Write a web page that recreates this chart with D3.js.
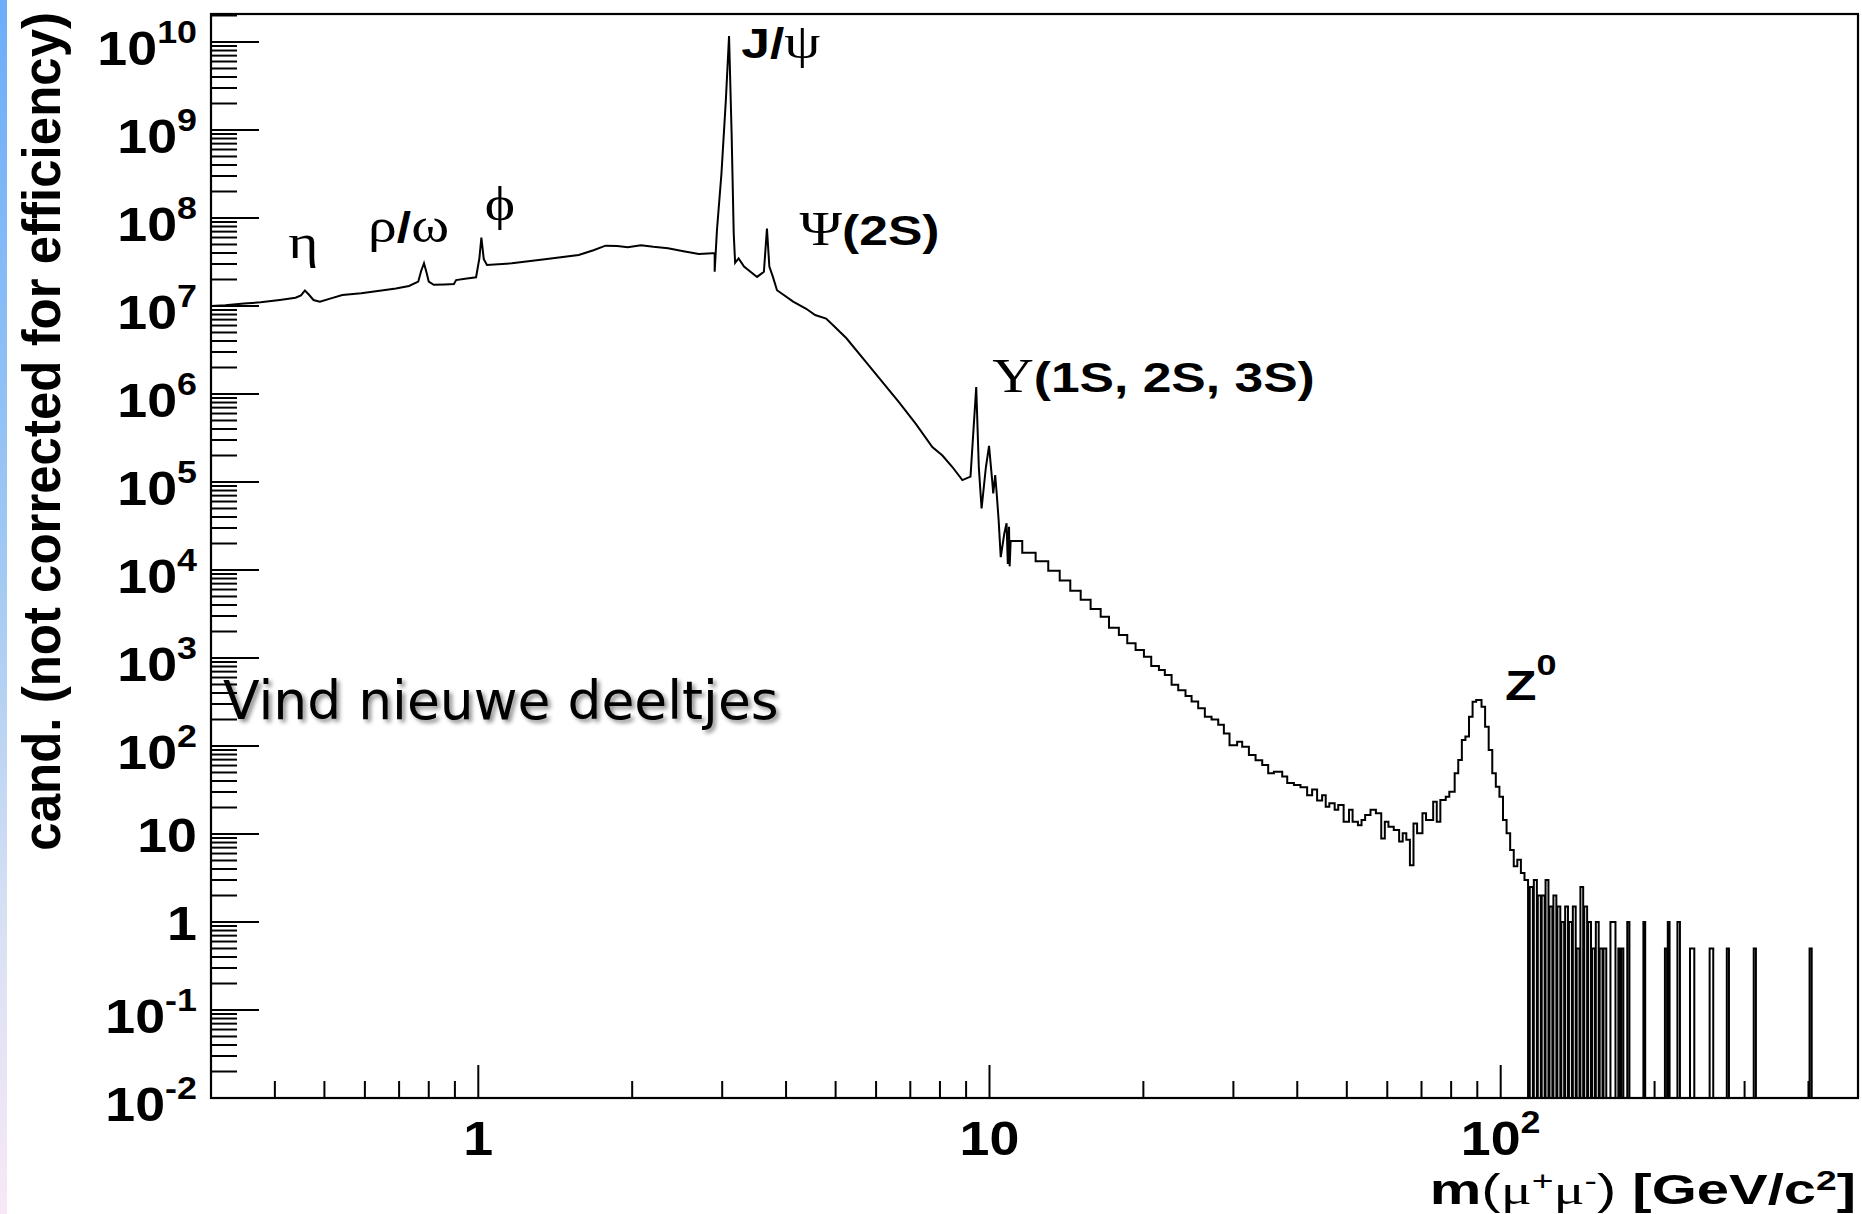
<!DOCTYPE html>
<html><head><meta charset="utf-8">
<script src="https://cdn.jsdelivr.net/npm/d3@7"></script>
<style>
html,body{margin:0;padding:0;background:#fff;}
svg{display:block;}
</style></head><body>
<svg id="c" width="1862" height="1214"></svg>
<script>
// ---------------- DATA ----------------
// continuous low-mass part of the dimuon spectrum (GeV, candidates)
const lowMass = [0.300,0.320,0.348,0.375,0.409,0.439,0.450,0.458,0.466,0.476,0.490,0.515,0.542,0.590,0.636,0.690,0.732,0.763,0.773,0.783,0.792,0.800,0.818,0.860,0.896,0.905,0.950,0.990,1.005,1.014,1.025,1.040,1.163,1.350,1.572,1.680,1.774,1.870,1.960,2.080,2.200,2.350,2.520,2.700,2.870,2.900,2.900,2.930,2.990,3.050,3.094,3.130,3.160,3.180,3.230,3.310,3.510,3.620,3.670,3.710,3.770,3.840,4.130,4.380,4.560,4.790,4.950,5.250,5.810,6.650,7.170,7.730,8.090,8.460,8.850,9.180,9.420,9.530,9.650,9.840,9.980,10.12,10.17,10.26,10.33,10.42,10.52,10.69,10.80,10.86,10.92,10.95,11.00];
const lowCount = [1.00e7,1.02e7,1.07e7,1.10e7,1.17e7,1.24e7,1.32e7,1.50e7,1.35e7,1.17e7,1.12e7,1.22e7,1.33e7,1.40e7,1.48e7,1.58e7,1.69e7,1.89e7,2.5e7,3.06e7,2.4e7,1.89e7,1.74e7,1.76e7,1.78e7,1.97e7,2.05e7,2.12e7,3.5e7,6.0e7,3.4e7,2.92e7,3.06e7,3.4e7,3.8e7,4.3e7,4.85e7,4.8e7,4.65e7,4.9e7,4.7e7,4.52e7,4.2e7,3.89e7,3.98e7,3.98e7,2.45e7,7.3e7,3.2e8,2.2e9,1.17e10,9.1e8,6.6e7,3.1e7,3.47e7,2.8e7,2.14e7,2.45e7,7.6e7,2.8e7,2.14e7,1.51e7,1.12e7,9.3e6,7.9e6,7.2e6,6.0e6,4.3e6,2.1e6,8.1e5,4.6e5,2.5e5,2.0e5,1.48e5,1.05e5,1.15e5,1.2e6,1.48e5,5.0e4,1.48e5,2.57e5,1.05e5,7.4e4,1.2e5,7.4e4,3.7e4,1.4e4,2.6e4,3.4e4,1.17e4,3.1e4,1.1e4,2.14e4];

// binned part, 11 - 113 GeV (bin edges and contents)
const histEdges = [11.00,11.59,12.31,13.03,13.72,14.39,15.08,15.77,16.50,17.13,17.91,18.60,19.31,20.05,20.72,21.45,22.03,22.71,23.40,24.18,24.85,25.60,26.38,27.19,28.02,28.74,29.48,30.51,31.21,32.17,33.15,34.16,35.09,36.00,37.38,38.23,39.40,40.58,41.82,42.77,43.74,44.74,45.47,46.21,47.34,48.11,49.29,50.50,51.32,52.57,53.43,54.30,55.63,57.00,58.39,59.34,60.31,61.78,63.29,64.32,65.37,66.44,67.52,68.62,70.30,71.44,73.78,74.98,76.20,78.07,79.34,81.28,82.60,83.95,85.31,86.70,88.11,89.54,91.73,93.22,94.74,96.28,97.83,99.43,101.04,102.69,104.36,106.06,107.78,109.53,111.31,113.12];
const histCounts = [21400,15700,12600,9800,7600,5800,4600,3600,2950,2200,1820,1470,1230,1035,810,730,640,495,430,370,320,268,215,200,174,139,102,112,98,79,69,61,49,51,45,38,36,34,27.5,32,24,27.5,20.4,22.3,18.8,21.3,13.8,18.8,13.8,12.6,14.4,16.4,18.8,17.2,8.9,13.8,12.1,11.1,8.2,10.2,8.6,4.4,13.2,10.2,17.2,14.4,23.3,13.8,24.3,26.5,30.3,48.9,69.3,117,128,215,319,333,280,166,90,49,34.5,26.5,14.4,10.2,6.6,4.3,5.1,3.6,3.0];

// sparse high-mass tail: only non-empty bins (all other bins are empty)
const tailLow  = [114.0,116.1,118.2,120.3,122.4,124.6,126.8,129.1,131.4,133.7,136.0,138.4,140.8,143.2,145.7,148.3,150.9,153.5,156.2,158.9,163.95,169.87,172.09,176.86,190.19,209.54,212.26,221.7,234.6,256.3,276.9,312.6,402.0];
const tailHigh = [115.6,117.7,119.8,121.9,124.0,126.2,128.5,130.8,133.1,135.4,137.8,140.2,142.6,145.0,147.6,150.2,152.8,155.5,158.2,160.9,167.70,171.25,173.76,178.58,191.73,211.58,213.98,224.2,239.2,260.5,279.6,315.7,405.9];
const tailCount= [2.5,3,2,2,3,1.5,2,1.5,1,1.5,1,1.5,0.5,2.5,1.5,1,0.5,1,0.5,0.5,1,0.5,0.5,1,1,0.5,1,1,0.5,0.5,0.5,0.5,0.5];

// axes
const yTickExps = [-2,-1,0,1,2,3,4,5,6,7,8,9,10];
const minorMultipliers = [2,3,4,5,6,7,8,9];
const xTickValues = [1,10,100];
const xTickBase = ["1","10","10"];
const xTickSup = ["","","2"];

// peak labels (text parts: b = bold sans, g = serif greek, s = superscript)
const peakTexts = [
  [["η","g"]],
  [["ρ","g"],["/","b"],["ω","g"]],
  [["ϕ","g"]],
  [["J/","b"],["ψ","g"]],
  [["Ψ","g"],["(2S)","b"]],
  [["Υ","g"],["(1S, 2S, 3S)","b"]],
  [["Z","b"],["0","s"]]
];

// ---------------- DRAW ----------------
const W = 1862, H = 1214;
const F = {left:211, top:14, right:1858, bottom:1098};
const SANS = "'Liberation Sans', Arial, Helvetica, sans-serif";
const SERIF = "'Liberation Serif', 'Times New Roman', 'DejaVu Serif', serif";
const svg = d3.select("#c");

const defs = svg.append("defs");
const grad = defs.append("linearGradient").attr("id","strip").attr("x1",0).attr("y1",0).attr("x2",0).attr("y2",1);
[[0,"#6cadf9"],[0.45,"#9fc8f3"],[0.75,"#d6e0f3"],[1,"#f8e8f6"]].forEach(s=>grad.append("stop").attr("offset",s[0]).attr("stop-color",s[1]));
defs.append("clipPath").attr("id","frame").append("rect")
  .attr("x",F.left).attr("y",F.top).attr("width",F.right-F.left).attr("height",F.bottom-F.top);
const sh = defs.append("filter").attr("id","shadow").attr("x","-5%").attr("y","-20%").attr("width","115%").attr("height","150%");
sh.append("feDropShadow").attr("dx",3).attr("dy",3).attr("stdDeviation",2.2).attr("flood-color","#000").attr("flood-opacity",0.45);

svg.append("rect").attr("width",W).attr("height",H).attr("fill","#fff");
svg.append("rect").attr("x",0).attr("y",0).attr("width",7).attr("height",H).attr("fill","url(#strip)");

const x = d3.scaleLog().domain([0.3, 500]).range([F.left, F.right]);
const y = d3.scaleLog().domain([0.01, 2.08e10]).range([F.bottom, F.top]);
const yMin = y.domain()[0];

// build the spectrum path
const pts = [];
lowMass.forEach((m,i)=>pts.push([m, lowCount[i]]));
for (let i=0;i<histCounts.length;i++){
  pts.push([histEdges[i], histCounts[i]]);
  pts.push([histEdges[i+1], histCounts[i]]);
}
pts.push([histEdges[histEdges.length-1], yMin]);
for (let i=0;i<tailCount.length;i++){
  const adjPrev = i>0 && Math.abs(tailHigh[i-1]-tailLow[i])<1e-9;
  const adjNext = i<tailCount.length-1 && Math.abs(tailHigh[i]-tailLow[i+1])<1e-9;
  if(!adjPrev) pts.push([tailLow[i], yMin]);
  pts.push([tailLow[i], tailCount[i]]);
  pts.push([tailHigh[i], tailCount[i]]);
  if(!adjNext) pts.push([tailHigh[i], yMin]);
}
pts.push([x.domain()[1], yMin]);

const line = d3.line().x(d=>x(d[0])).y(d=>y(d[1]));
svg.append("path").attr("d", line(pts)).attr("fill","none").attr("stroke","#000")
  .attr("stroke-width",2).attr("stroke-linejoin","miter").attr("clip-path","url(#frame)");

// y ticks
const gy = svg.append("g").attr("stroke","#000").attr("stroke-width",2);
yTickExps.forEach(k=>{
  const v = Math.pow(10,k);
  gy.append("line").attr("x1",F.left).attr("x2",F.left+48).attr("y1",y(v)).attr("y2",y(v));
  minorMultipliers.forEach(m=>{
    const mv = m*v;
    if (mv < y.domain()[1]) gy.append("line").attr("x1",F.left).attr("x2",F.left+26).attr("y1",y(mv)).attr("y2",y(mv));
  });
});
// x ticks
const gx = svg.append("g").attr("stroke","#000").attr("stroke-width",2);
x.ticks().filter(v=>v>0.3001 && v<499).forEach(v=>{
  const major = xTickValues.some(t=>Math.abs(t-v)<1e-9);
  gx.append("line").attr("x1",x(v)).attr("x2",x(v)).attr("y1",F.bottom).attr("y2",F.bottom-(major?33:17));
});

// frame
svg.append("rect").attr("x",F.left).attr("y",F.top).attr("width",F.right-F.left).attr("height",F.bottom-F.top)
  .attr("fill","none").attr("stroke","#000").attr("stroke-width",2.2);

function rich(parent, parts, opt){
  const t = parent.append("text").attr("transform",opt.transform).attr("text-anchor",opt.anchor||"start").attr("fill","#000");
  let shift = 0;
  parts.forEach(p=>{
    const ts = t.append("tspan").text(p.t);
    const target = p.sup ? -p.sup : 0;
    if (target!==shift){ ts.attr("dy", target-shift); shift = target; }
    ts.attr("font-family", p.serif?SERIF:(p.font||SANS))
      .attr("font-weight", p.bold?"bold":"normal")
      .attr("font-size", p.size);
  });
  return t;
}

// y tick labels
const labY = svg.append("g");
yTickExps.forEach(k=>{
  const ty = y(Math.pow(10,k));
  let parts;
  if (k===0) parts=[{t:"1",bold:true,size:48}];
  else if (k===1) parts=[{t:"10",bold:true,size:48}];
  else parts=[{t:"10",bold:true,size:48},{t:String(k),bold:true,size:32,sup:22}];
  const base = (k===0||k===1) ? ty+18 : ty+23;
  rich(labY, parts, {transform:`translate(197,${base}) scale(1.12,1)`, anchor:"end"});
});
// x tick labels
xTickValues.forEach((v,i)=>{
  const parts=[{t:xTickBase[i],bold:true,size:48}];
  if (xTickSup[i]) parts.push({t:xTickSup[i],bold:true,size:32,sup:22});
  rich(svg, parts, {transform:`translate(${x(v)},1155) scale(1.12,1)`, anchor:"middle"});
});

// axis titles
rich(svg, [{t:"m",bold:true,size:42},{t:"(",size:42},{t:"μ",serif:true,size:42},{t:"+",size:27,sup:14},
  {t:"μ",serif:true,size:42},{t:"-",size:27,sup:14},{t:")",size:42},{t:" [GeV/c",bold:true,size:42},
  {t:"2",bold:true,size:27,sup:14},{t:"]",bold:true,size:42}],
  {transform:"translate(1856,1204) scale(1.38,1)", anchor:"end"});
rich(svg, [{t:"cand. (not corrected for efficiency)",bold:true,size:51}],
  {transform:"translate(60,12) rotate(-90) scale(1,1.05)", anchor:"end"});

// peak labels, anchored in data coordinates (mass, candidates)
const peakAnchors = [[0.4247,3.5e7],[0.6087,5.3e7],[1.029,9.5e7],[3.27,6.6e9],[4.25,4.9e7],[10.12,1.05e6],[102,333]];
peakTexts.forEach((parts,i)=>{
  const ps = parts.map(([t,c])=> c==="g" ? {t, serif:true, size:48}
      : c==="s" ? {t, bold:true, size:30, sup:25} : {t, bold:true, size:43});
  rich(svg, ps, {transform:`translate(${x(peakAnchors[i][0])},${y(peakAnchors[i][1])}) scale(1.2,1)`});
});

// overlay caption
svg.append("text").attr("x",223).attr("y",719).attr("font-family","'DejaVu Sans', Verdana, sans-serif")
  .attr("font-size",53.5).attr("fill","#000").attr("filter","url(#shadow)").text("Vind nieuwe deeltjes");
</script>
</body></html>
